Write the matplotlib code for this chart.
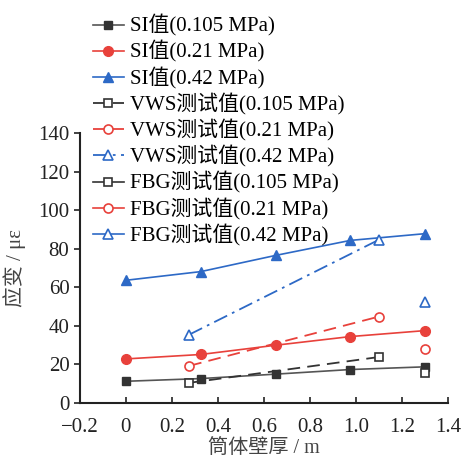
import matplotlib
matplotlib.use('Agg')
import matplotlib.pyplot as plt

plt.rcParams['font.family'] = ['Liberation Serif', 'Noto Sans CJK SC']
plt.rcParams['axes.unicode_minus'] = True

# wall thickness positions (m)
si_x = [0, 0.325, 0.65, 0.975, 1.3]
vws_x = [0.275, 1.1]
fbg_x = [1.3]

# strain values (micro-strain)
si_0105 = [11.2, 12.6, 14.9, 17.3, 18.7]
si_021 = [22.8, 25.1, 29.9, 34.4, 37.5]
si_042 = [63.6, 68.1, 76.5, 84.3, 87.8]
vws_0105 = [10.4, 23.8]
vws_021 = [19.2, 44.8]
vws_042 = [35.4, 84.7]
fbg_0105 = [15.5]
fbg_021 = [27.7]
fbg_042 = [52.2]

black = '#333333'
gray = '#555555'
red = '#e8413b'
blue = '#2d69c6'

fig = plt.figure(figsize=(4.64, 4.62), dpi=100)
ax = fig.add_axes([0.172, 0.128, 0.794, 0.584])

ax.plot(si_x, si_0105, '-', color=gray, lw=1.2, marker='s', ms=6,
        mfc=black, mec=black, label='SI值(0.105 MPa)')
ax.plot(si_x, si_021, '-', color=red, lw=1.2, marker='o', ms=7,
        mfc=red, mec=red, label='SI值(0.21 MPa)')
ax.plot(si_x, si_042, '-', color=blue, lw=1.2, marker='^', ms=7,
        mfc=blue, mec=blue, label='SI值(0.42 MPa)')
ax.plot(vws_x, vws_0105, color=black, lw=1.3, ls=(0, (7, 4)), marker='s', ms=6,
        mfc='white', mec=black, mew=1.2, label='VWS测试值(0.105 MPa)')
ax.plot(vws_x, vws_021, color=red, lw=1.3, ls=(0, (7, 4)), marker='o', ms=6.5,
        mfc='white', mec=red, mew=1.2, label='VWS测试值(0.21 MPa)')
ax.plot(vws_x, vws_042, color=blue, lw=1.3, ls=(0, (8, 3, 1.5, 3)), marker='^', ms=7,
        mfc='white', mec=blue, mew=1.2, label='VWS测试值(0.42 MPa)')
ax.plot(fbg_x, fbg_0105, '-', color=black, lw=1.2, marker='s', ms=6,
        mfc='white', mec=black, mew=1.2, label='FBG测试值(0.105 MPa)')
ax.plot(fbg_x, fbg_021, '-', color=red, lw=1.2, marker='o', ms=6.5,
        mfc='white', mec=red, mew=1.2, label='FBG测试值(0.21 MPa)')
ax.plot(fbg_x, fbg_042, '-', color=blue, lw=1.2, marker='^', ms=7,
        mfc='white', mec=blue, mew=1.2, label='FBG测试值(0.42 MPa)')

ax.set_xlim(-0.2, 1.4)
ax.set_ylim(0, 140)
ax.set_xticks([-0.2, 0, 0.2, 0.4, 0.6, 0.8, 1.0, 1.2, 1.4])
ax.set_xticklabels(['−0.2', '0', '0.2', '0.4', '0.6', '0.8', '1.0', '1.2', '1.4'])
ax.set_yticks(range(0, 141, 20))
ax.tick_params(axis='both', labelsize=15, colors='#222222', length=4, width=1.2)
ax.tick_params(axis='x', direction='in', length=4, pad=11)
for s in ['top', 'right']:
    ax.spines[s].set_visible(False)
for s in ['left', 'bottom']:
    ax.spines[s].set_linewidth(1.5)
    ax.spines[s].set_color('#222222')

ax.set_xlabel('筒体壁厚 / m', fontsize=14.5, color='#444444', labelpad=1)
ax.set_ylabel('应变 / με', fontsize=15, color='#444444', labelpad=9)

ax.legend(loc='upper left', bbox_to_anchor=(0.2, 0.968), bbox_transform=fig.transFigure,
          frameon=False, fontsize=15, handlelength=1.5, handletextpad=0.3,
          labelspacing=0.2, borderaxespad=0, borderpad=0)

fig.savefig('out.png', dpi=100)
